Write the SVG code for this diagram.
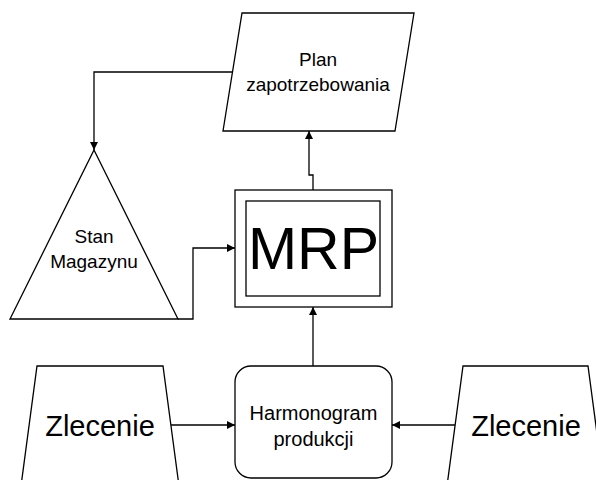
<svg xmlns="http://www.w3.org/2000/svg" width="596" height="480" viewBox="0 0 596 480">
<style>
.s{fill:#fff;stroke:#000;stroke-width:1.3}
.c{fill:none;stroke:#000;stroke-width:1.3}
.t{font-family:"Liberation Sans",Arial,sans-serif;font-size:19px;fill:#000;text-anchor:middle}
.h{font-size:20px}
.big{font-size:29px}
.mrp{font-size:59px}
</style>
<defs>
<marker id="a" viewBox="0 0 10 10" refX="10" refY="5" markerWidth="8" markerHeight="8" markerUnits="userSpaceOnUse" orient="auto">
<path d="M0,0 L10,5 L0,10 Z" fill="#000"/>
</marker>
</defs>
<g id="plan">
<polygon class="s" points="242,13 414,13 395,131 223,131"/>
<text class="t" x="318" y="66">Plan</text>
<text class="t" x="318" y="91">zapotrzebowania</text>
</g>
<g id="stan">
<polygon class="s" points="94,150 178,319 10,319"/>
<text class="t" x="94" y="243">Stan</text>
<text class="t" x="94" y="268">Magazynu</text>
</g>
<g id="mrp">
<rect class="s" x="235" y="190" width="157" height="117"/>
<rect class="s" x="246" y="201" width="134" height="95"/>
<text class="t mrp" x="313.5" y="269">MRP</text>
</g>
<g id="harmonogram">
<rect class="s" x="235" y="366" width="157" height="112" rx="16" ry="16"/>
<text class="t h" x="313.5" y="420">Harmonogram</text>
<text class="t h" x="313.5" y="446">produkcji</text>
</g>
<g id="zlecenie1">
<polygon class="s" points="37,366 163,366 179,486 21,486"/>
<text class="t big" x="100" y="436">Zlecenie</text>
</g>
<g id="zlecenie2">
<polygon class="s" points="463,366 588,366 604,486 447,486"/>
<text class="t big" x="526" y="436">Zlecenie</text>
</g>
<g id="connectors">
<polyline class="c" points="232,72 94,72 94,150" marker-end="url(#a)"/>
<polyline class="c" points="178,319 193,319 193,248 235,248" marker-end="url(#a)"/>
<polyline class="c" points="313,190 313,175 309,175 309,131" marker-end="url(#a)"/>
<polyline class="c" points="313,366 313,307" marker-end="url(#a)"/>
<polyline class="c" points="171,425 235,425" marker-end="url(#a)"/>
<polyline class="c" points="455,425 392,425" marker-end="url(#a)"/>
</g>
</svg>
